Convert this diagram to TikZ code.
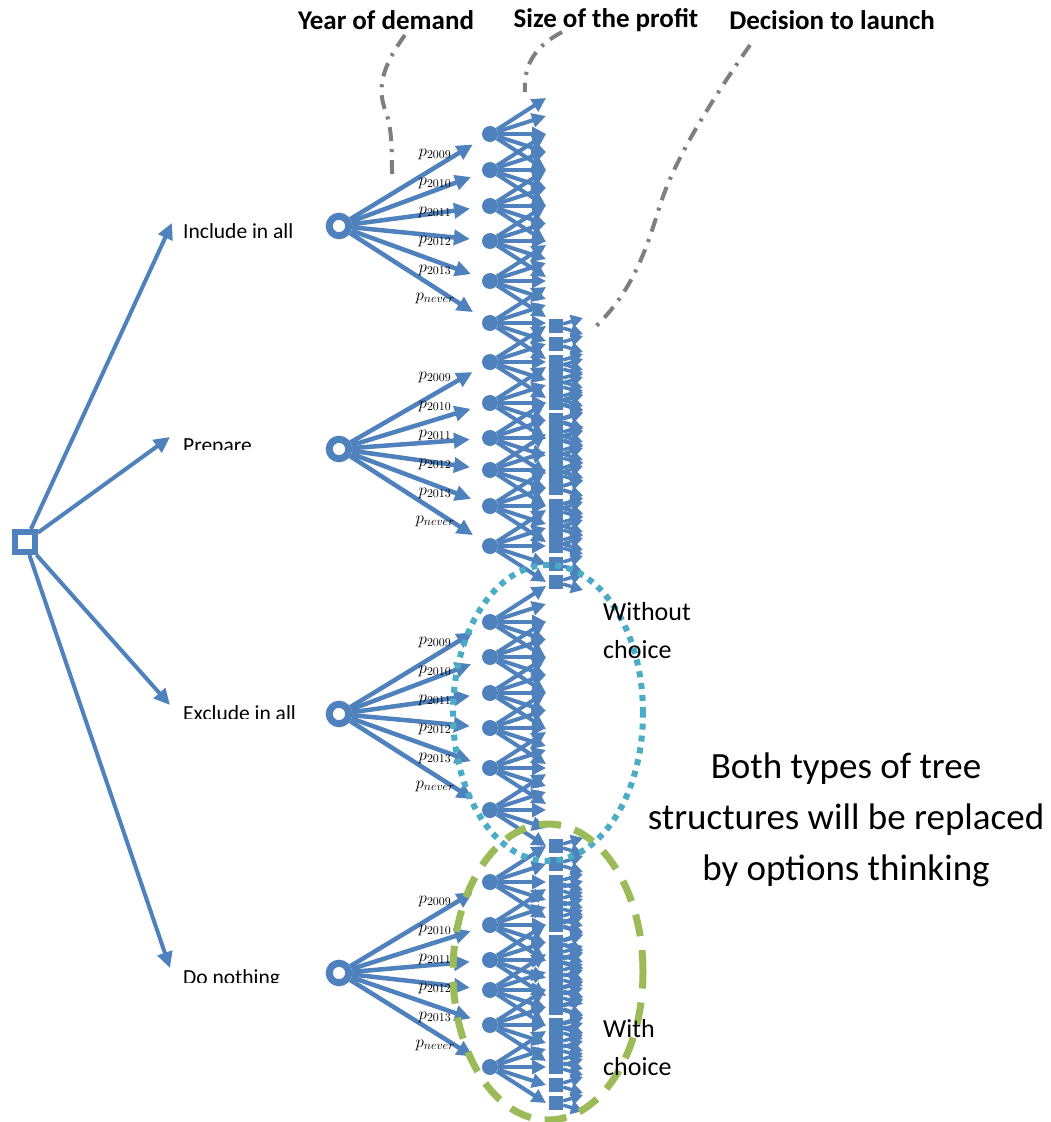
\RequirePackage{fix-cm}
\documentclass[tikz,border=0pt]{standalone}
\usepackage{fontspec}
\setmainfont{Carlito}
\usetikzlibrary{arrows.meta}
\definecolor{nodeblue}{RGB}{79,129,189}
\definecolor{leadgray}{RGB}{127,127,127}
\definecolor{aqua}{RGB}{75,172,198}
\definecolor{leafgreen}{RGB}{155,187,89}
\begin{document}
\begin{tikzpicture}[x=1pt,y=-1pt,
  rootbox/.style={rectangle,draw=nodeblue,line width=6pt,fill=white,minimum size=20pt,inner sep=0pt},
  chance/.style={circle,draw=nodeblue,line width=7pt,fill=white,minimum size=19.5pt,inner sep=0pt},
  dot/.style={circle,fill=nodeblue,minimum size=16pt,inner sep=0pt},
  decbox/.style={rectangle,fill=nodeblue,minimum size=14pt,inner sep=0pt},
  bigarr/.style={draw=nodeblue,line width=4.5pt,-{Triangle[length=16pt,width=15pt]}},
  fanarr/.style={draw=nodeblue,line width=4pt,-{Triangle[length=14pt,width=14pt]}},
  decarr/.style={draw=nodeblue,line width=3.5pt,-{Triangle[length=12pt,width=13pt]}},
  lead/.style={draw=leadgray,line width=4pt,dash pattern=on 14pt off 8pt on 3pt off 8pt},
  heading/.style={font=\fontsize{27}{30}\selectfont\bfseries,inner sep=0pt},
  optlab/.style={font=\fontsize{21.5}{25}\selectfont,inner sep=0pt,anchor=base west},
  plab/.style={font=\fontsize{17}{20}\selectfont,inner sep=0pt},
  note/.style={font=\fontsize{26}{38}\selectfont,align=left,inner sep=0pt,anchor=west},
  bignote/.style={font=\fontsize{37}{51}\selectfont,align=center,inner sep=0pt},
]
% canvas
\fill[white] (0,0) rectangle (1051,1122);
\useasboundingbox (0,0) rectangle (1051,1122);

% root decision and its four options
\node[rootbox] (root) at (25,542) {};
\coordinate (t1) at (172,223);
\coordinate (t2) at (170,437);
\coordinate (t3) at (170,705);
\coordinate (t4) at (170,968);
\foreach \n in {1,2,3,4} {\draw[bigarr,line width=4pt] (root) -- (t\n);}

\begin{scope}
  \clip (178,200) rectangle (330,237);
  \node[optlab] (o1) at (183,238.5) {Include in all};
\end{scope}
\begin{scope}
  \clip (178,420) rectangle (330,449);
  \node[optlab] (o2) at (183,452.5) {Prepare};
\end{scope}
\begin{scope}
  \clip (178,690) rectangle (330,718.5);
  \node[optlab] (o3) at (183,720.5) {Exclude in all};
\end{scope}
\begin{scope}
  \clip (178,955) rectangle (330,982.5);
  \node[optlab] (o4) at (183,984.5) {Do nothing};
\end{scope}

% year-of-demand chance nodes with their profit fans
\foreach \g/\cy/\dl in {1/226/{134,170,206,241,281,323},
                        2/449/{362,403,438,470,506,546},
                        3/714/{622,657,693,728,768,810},
                        4/973/{882,925,960,990,1025,1067}} {
  \node[chance] (c\g) at (339,\cy) {};
  \foreach \d [count=\i] in \dl {
    \node[dot] (d\g-\i) at (490,\d) {};
    \draw[bigarr,shorten >=12pt] (c\g) -- (d\g-\i);
    \foreach \k [count=\j] in {-36,-18,0,18,36} {
      \coordinate (e\g-\i-\j) at (546,{\d+\k});
      \draw[fanarr] (d\g-\i) -- (e\g-\i-\j);
    }
  }
  \foreach \lab/\off [count=\i] in {2009/-72,2010/-43,2011/-14,2012/15,2013/44,never/72} {
    \node[plab] (p\g-\i) at (435,{\cy+\off}) {$p_{\lab}$};
  }
}

% launch decisions after each profit outcome
\foreach \g/\dl in {2/{362,403,438,470,506,546},
                    4/{882,925,960,990,1025,1067}} {
  \foreach \d [count=\i] in \dl {
    \foreach \k [count=\j] in {-36,-18,0,18,36} {
      \node[decbox] (s\g-\i-\j) at (556,{\d+\k}) {};
      \coordinate (u\g-\i-\j) at (583,{\d+\k-8});
      \coordinate (v\g-\i-\j) at (583,{\d+\k+8});
      \draw[decarr] (s\g-\i-\j) -- (u\g-\i-\j);
      \draw[decarr] (s\g-\i-\j) -- (v\g-\i-\j);
    }
  }
}

% column headings and their leader lines
\node[heading] (hyear) at (386,20) {Year of demand};
\node[heading] (hsize) at (606,20) {Size of the profit};
\node[heading] (hlaunch) at (832,20) {Decision to launch};
\coordinate (ya) at (405,35);  \coordinate (yb) at (392,175);
\coordinate (sa) at (562,32);  \coordinate (sb) at (525,92);
\coordinate (la) at (750,45);  \coordinate (lb) at (592,330);
\draw[lead] (ya) .. controls (383,65) and (376,88) .. (386,112)
                 .. controls (392,130) and (392,150) .. (yb);
\draw[lead] (sa) .. controls (538,45) and (523,62) .. (sb);
\draw[lead] (la) .. controls (705,110) and (675,160) .. (660,205)
                 .. controls (645,255) and (630,295) .. (lb);

% groupings
\draw[aqua,line width=6pt,dash pattern=on 6pt off 6pt] (548,713) ellipse [x radius=95pt,y radius=148pt];
\draw[leafgreen,line width=7pt,dash pattern=on 22pt off 14pt] (548,972) ellipse [x radius=95pt,y radius=148pt];

\node[note] (wo) at (603,631) {Without\\choice};
\node[note] (wc) at (603,1048) {With\\choice};
\node[bignote] (both) at (846,820) {Both types of tree\\structures will be replaced\\by options thinking};
\end{tikzpicture}
\end{document}
